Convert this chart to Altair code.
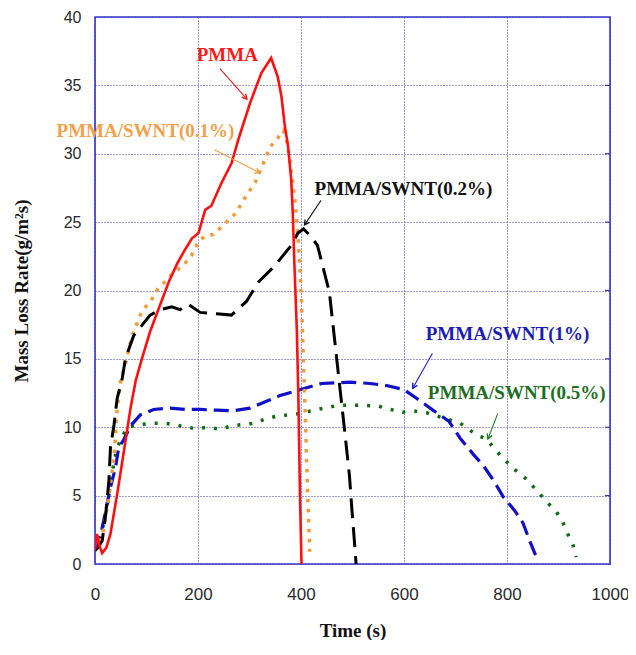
import math
import altair as alt
import pandas as pd

# ---------------- data ----------------
pmma_t = [0, 4, 8, 14, 22, 30, 43, 53, 62, 69, 79, 91, 107, 124, 143, 160, 175, 188, 201, 214, 226, 246,
          265, 278, 284, 301, 310, 323, 342, 355, 362, 368, 375, 381, 384, 387, 392, 395, 398, 401]
pmma_v = [1.0, 2.2, 1.4, 0.8, 1.2, 2.2, 5.1, 7.5, 9.7, 11.4, 13.4, 15.0, 17.0, 18.7, 20.6, 22.0, 23.0, 23.8,
          24.2, 25.9, 26.2, 27.9, 29.3, 31.0, 31.7, 33.7, 34.6, 35.9, 37.0, 35.6, 34.2, 32.2, 30.5, 28.1,
          25.7, 22.1, 17.0, 12.0, 5.0, 0.0]

s01_t = [0, 6, 14, 24, 37, 43, 50, 59, 72, 90, 111, 122, 147, 173, 188, 201, 215, 230, 250, 272, 295, 311,
         327, 340, 352, 366, 372, 378, 385, 391, 394, 398, 401, 405, 409, 413, 417]
s01_v = [1.0, 1.3, 2.0, 4.2, 7.8, 11.4, 13.4, 14.6, 16.7, 18.4, 19.4, 20.1, 21.1, 21.9, 22.6, 23.6, 24.0,
         24.1, 24.8, 25.6, 27.0, 27.9, 29.3, 30.5, 31.0, 31.7, 31.0, 29.6, 27.6, 25.5, 24.0, 21.6, 19.2,
         14.5, 10.0, 5.0, 0.9]

s02_t = [0, 6, 14, 21, 27, 30, 37, 43, 53, 59, 75, 107, 127, 149, 165, 181, 204, 236, 265, 294, 317, 349,
         381, 394, 405, 418, 432, 442, 455, 465, 474, 484, 494, 499, 503, 507]
s02_v = [1.0, 1.2, 1.7, 3.7, 6.1, 8.5, 10.2, 12.1, 13.6, 15.0, 16.7, 18.2, 18.6, 18.8, 18.6, 19.0, 18.4,
         18.3, 18.2, 19.2, 20.6, 21.8, 23.3, 24.2, 24.5, 24.0, 23.3, 21.8, 19.9, 16.5, 13.4, 10.0, 6.5,
         3.9, 2.0, 0.0]

s1_t = [0, 6, 17, 30, 40, 46, 56, 69, 88, 114, 146, 175, 204, 236, 268, 301, 333, 358, 394, 440, 495, 534,
        566, 600, 625, 658, 687, 709, 735, 754, 774, 793, 815, 831, 844, 857]
s1_v = [1.0, 1.3, 3.2, 5.6, 7.1, 8.5, 9.1, 10.1, 10.9, 11.3, 11.4, 11.3, 11.3, 11.25, 11.2, 11.4, 11.9,
        12.3, 12.7, 13.2, 13.3, 13.2, 13.05, 12.75, 12.1, 11.2, 10.45, 9.2, 8.0, 7.2, 6.1, 4.9, 3.9, 3.0,
        1.7, 0.5]

s05_t = [0, 6, 14, 24, 37, 43, 62, 88, 114, 133, 153, 178, 198, 220, 242, 265, 287, 310, 330, 352, 397,
         425, 472, 519, 550, 574, 597, 619, 645, 683, 709, 735, 761, 774, 793, 815, 838, 857, 876, 896,
         909, 918, 928, 934]
s05_v = [1.0, 1.5, 2.5, 4.4, 7.5, 8.5, 10.0, 10.2, 10.3, 10.3, 10.2, 10.0, 9.9, 10.0, 9.85, 10.1, 10.2,
         10.3, 10.6, 10.8, 11.0, 11.25, 11.6, 11.6, 11.55, 11.3, 11.1, 11.2, 11.05, 10.6, 10.3, 9.6, 9.1,
         8.5, 7.7, 6.9, 6.2, 5.4, 4.6, 3.8, 3.0, 2.2, 1.4, 0.5]

labels = ["PMMA", "PMMA/SWNT(0.1%)", "PMMA/SWNT(0.2%)", "PMMA/SWNT(1%)", "PMMA/SWNT(0.5%)"]
label_t = [257, 98, 599, 801, 819]
label_v = [37.2, 31.7, 27.4, 16.8, 12.5]
label_colors = ["#ff1a1a", "#f4a04a", "#111111", "#1c1cb4", "#1f6e1f"]
arrow_colors = ["#e82020", "#f0a040", "#111111", "#1c1cc8", "#1f7a1f"]
arrow_t1 = [243, 232, 439, 655, 782]
arrow_v1 = [36.2, 30.3, 26.6, 15.4, 11.0]
arrow_t2 = [295, 320, 407, 617, 763]
arrow_v2 = [34.0, 28.6, 24.8, 12.85, 9.15]

x_ticks = [0, 200, 400, 600, 800, 1000]
y_ticks = [0, 5, 10, 15, 20, 25, 30, 35, 40]

# ---------------- chart ----------------
W, H = 515, 547
BLUE = "#3434c8"

xs = alt.Scale(domain=[0, 1000], nice=False, zero=False)
ys = alt.Scale(domain=[0, 40], nice=False, zero=False)

x_axis = alt.Axis(values=x_ticks, grid=True, gridColor=BLUE, gridDash=[1, 2], gridWidth=1,
                  ticks=False, domain=False, format="d", labelFlush=False,
                  labelFont="Liberation Sans", labelFontSize=17, labelColor="#2a2a2a",
                  labelPadding=22, title="Time (s)", titleFont="Liberation Serif",
                  titleFontSize=19, titleFontWeight="bold", titleColor="#111111",
                  titleY=66, titleBaseline="middle")
y_axis = alt.Axis(values=y_ticks, grid=True, gridColor=BLUE, gridDash=[1, 2], gridWidth=1,
                  ticks=False, domain=False, format="d", labelFlush=False,
                  labelFont="Liberation Sans", labelFontSize=16, labelColor="#2a2a2a",
                  labelPadding=14, title="Mass Loss Rate(g/m²s)", titleFont="Liberation Serif",
                  titleFontSize=19, titleFontWeight="bold", titleColor="#111111",
                  titleX=-74, titleY=H / 2, titleAngle=270, titleBaseline="middle")

X = alt.X("t:Q", scale=xs, axis=x_axis)
Y = alt.Y("v:Q", scale=ys, axis=y_axis)


def series(t, v, color, width, dash=None):
    kw = dict(color=color, strokeWidth=width, clip=True, strokeJoin="miter")
    if dash:
        kw["strokeDash"] = dash
    return alt.Chart(pd.DataFrame({"t": t, "v": v})).mark_line(**kw).encode(x=X, y=Y)


green = series(s05_t, s05_v, "#106a10", 3.5, [3, 9])
blue = series(s1_t, s1_v, "#1010c8", 3.2, [15, 7])
orange = series(s01_t, s01_v, "#f59a3a", 3.5, [3.5, 6.5])
black = series(s02_t, s02_v, "#000000", 3.0, [20, 9])
red = series(pmma_t, pmma_v, "#ff1010", 2.6)

# right-edge inward ticks
rticks = alt.Chart(pd.DataFrame({"v": y_ticks[1:-1]})).mark_rule(color=BLUE, strokeWidth=1.2).encode(
    y=Y, x=alt.value(W - 5), x2=alt.value(W))

# annotations
ann = pd.DataFrame({"label": labels, "t": label_t, "v": label_v, "c": label_colors})
texts = alt.Chart(ann).mark_text(font="Liberation Serif", fontWeight="bold", fontSize=19,
                                 align="center", baseline="middle").encode(
    x=X, y=Y, text="label:N", color=alt.Color("c:N", scale=None))

angles = []
for a, b, c, d in zip(arrow_t1, arrow_v1, arrow_t2, arrow_v2):
    dx = (c - a) * W / 1000.0
    dy = -(d - b) * H / 40.0
    angles.append(math.degrees(math.atan2(-dx, dy)) % 360)

arr = pd.DataFrame({"t": arrow_t1, "v": arrow_v1, "t2": arrow_t2, "v2": arrow_v2,
                    "c": arrow_colors, "ang": angles})
shafts = alt.Chart(arr).mark_rule(strokeWidth=1.1).encode(
    x=X, y=Y, x2="t2:Q", y2="v2:Q", color=alt.Color("c:N", scale=None))
heads = alt.Chart(arr).mark_point(shape="M-0.55,-1L0,0L0.55,-1", filled=False, size=90,
                                  strokeWidth=1.4, opacity=1).encode(
    x=alt.X("t2:Q", scale=xs, axis=x_axis), y=alt.Y("v2:Q", scale=ys, axis=y_axis),
    color=alt.Color("c:N", scale=None), angle=alt.Angle("ang:Q", scale=None))

chart = alt.layer(green, blue, orange, black, red, rticks, shafts, heads, texts).properties(
    width=W, height=H,
    autosize=alt.AutoSizeParams(type="none"),
    padding={"left": 87, "top": 9, "right": 18, "bottom": 76},
    background="white",
).configure_view(stroke=BLUE, strokeWidth=1.6)

chart.save("out.html", embed_options={"renderer": "svg", "actions": False})
